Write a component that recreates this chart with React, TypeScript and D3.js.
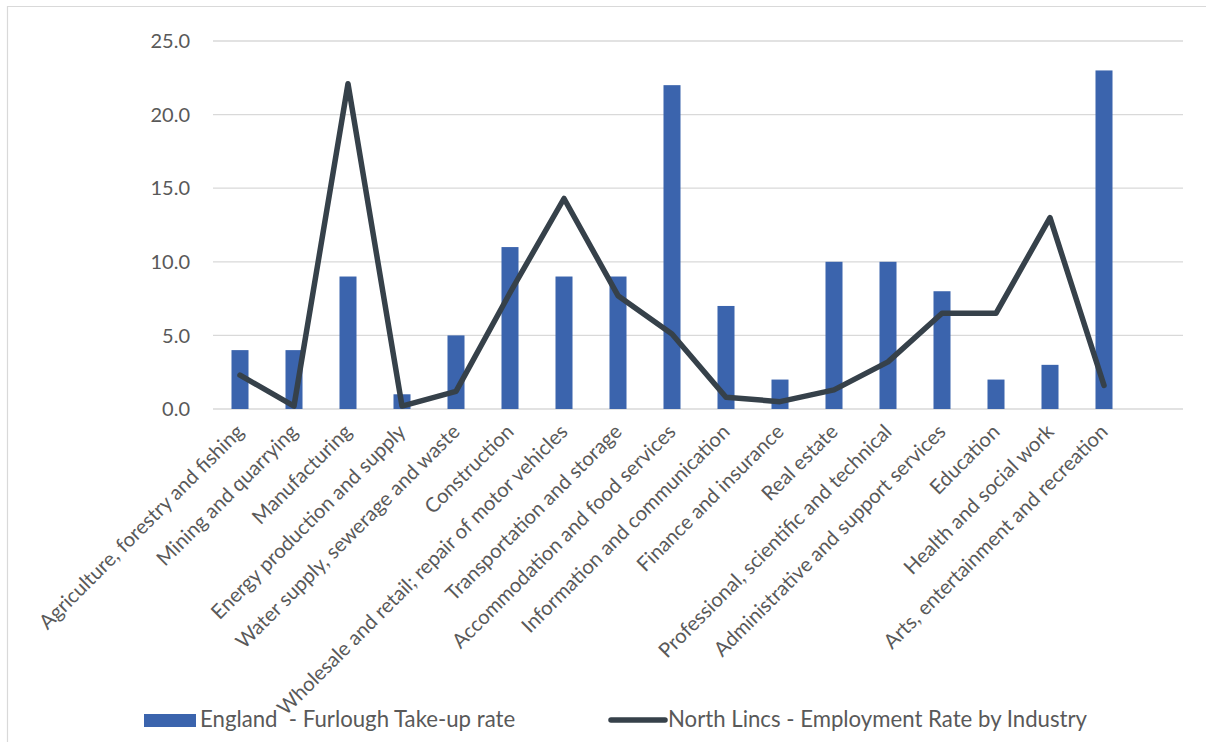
import React from "react";
import * as d3 from "d3";

const categories = [
  "Agriculture, forestry and fishing",
  "Mining and quarrying",
  "Manufacturing",
  "Energy production and supply",
  "Water supply, sewerage and waste",
  "Construction",
  "Wholesale and retail; repair of motor vehicles",
  "Transportation and storage",
  "Accommodation and food services",
  "Information and communication",
  "Finance and insurance",
  "Real estate",
  "Professional, scientific and technical",
  "Administrative and support services",
  "Education",
  "Health and social work",
  "Arts, entertainment and recreation",
];

const furloughRate = [4, 4, 9, 1, 5, 11, 9, 9, 22, 7, 2, 10, 10, 8, 2, 3, 23];
const employmentRate = [2.3, 0.2, 22.1, 0.2, 1.2, 7.9, 14.3, 7.7, 5.1, 0.8, 0.5, 1.3, 3.2, 6.5, 6.5, 13.0, 1.6];
const yTicks = [0, 5, 10, 15, 20, 25];

const seriesNames = ["England  - Furlough Take-up rate", "North Lincs - Employment Rate by Industry"];

const W = 1206;
const H = 742;
const BAR = "#3B64AD";
const LINE = "#36414A";
const GRID = "#D9D9D9";
const TEXT = "#595959";
const FONT = "Lato, 'Open Sans', sans-serif";

export default function App() {
  const x = d3
    .scaleBand<string>()
    .domain(categories)
    .range([213, 213 + 54 * categories.length])
    .paddingInner(0.685)
    .paddingOuter(0.3425);
  const y = d3.scaleLinear().domain([0, 25]).range([409, 41]);
  const gridRight = 1183;

  const line = d3
    .line<number>()
    .x((_, i) => (x(categories[i]) as number) + x.bandwidth() / 2)
    .y((d) => y(d));

  return (
    <svg
      width={W}
      height={H}
      style={{ position: "absolute", left: 0, top: 0, background: "#fff" }}
      fontFamily={FONT}
    >
      <path d={`M7.5,${H} V6.5 H${W}`} fill="none" stroke={GRID} strokeWidth={1.2} />

      {yTicks.map((t) => (
        <g key={t}>
          <line x1={213} x2={gridRight} y1={y(t)} y2={y(t)} stroke={GRID} strokeWidth={1.3} />
          <text x={190} y={y(t)} dy="0.36em" textAnchor="end" fontSize={20} fill={TEXT}>
            {t.toFixed(1)}
          </text>
        </g>
      ))}

      {furloughRate.map((v, i) => (
        <rect
          key={categories[i]}
          x={x(categories[i])}
          y={y(v)}
          width={x.bandwidth()}
          height={y(0) - y(v)}
          fill={BAR}
        />
      ))}

      <path
        d={line(employmentRate) || ""}
        fill="none"
        stroke={LINE}
        strokeWidth={5.5}
        strokeLinejoin="round"
        strokeLinecap="round"
      />

      {categories.map((c) => {
        const cx = (x(c) as number) + x.bandwidth() / 2;
        return (
          <text
            key={c}
            transform={`translate(${cx + 5},${433}) rotate(-45)`}
            textAnchor="end"
            fontSize={20.3}
            fill={TEXT}
          >
            {c}
          </text>
        );
      })}

      <rect x={144} y={714} width={52} height={13} fill={BAR} />
      <text x={200} y={727} fontSize={22.2} fill={TEXT} style={{ whiteSpace: "pre" }}>
        {seriesNames[0]}
      </text>
      <line x1={611} x2={665} y1={720} y2={720} stroke={LINE} strokeWidth={5.5} strokeLinecap="round" />
      <text x={668} y={727} fontSize={22.2} fill={TEXT}>
        {seriesNames[1]}
      </text>
    </svg>
  );
}
